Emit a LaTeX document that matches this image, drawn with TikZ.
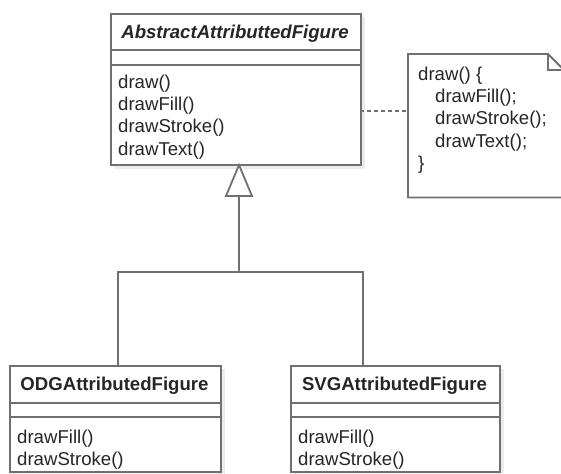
\documentclass[tikz,border=0pt]{standalone}
\usepackage{fontspec}
\setmainfont{Liberation Sans}
\usetikzlibrary{calc}
\definecolor{linegray}{RGB}{112,112,112}
\definecolor{textcol}{RGB}{38,38,38}
\definecolor{shadowcol}{RGB}{236,236,236}
\begin{document}
\begin{tikzpicture}[x=1pt,y=-1pt,
  umlline/.style={draw=linegray, line width=1.8pt},
  classbox/.style={umlline, fill=white, rectangle, inner sep=0pt, anchor=north west},
  boxshadow/.style={fill=shadowcol, draw=none},
  sepline/.style={umlline, line width=1.6pt},
  txt/.style={text=textcol, inner sep=0pt, anchor=base west, font=\fontsize{18.6}{22}\selectfont},
  ttl/.style={text=textcol, inner sep=0pt, anchor=base, font=\fontsize{18.6}{22}\selectfont\bfseries},
  conn/.style={umlline},
  dashconn/.style={draw=linegray, line width=1.5pt, dash pattern=on 4pt off 3pt}
]
\useasboundingbox (0,0) rectangle (561,473);

% shadows
\fill[boxshadow] (114,17) rectangle (365,169);
\fill[boxshadow] (13,369) rectangle (225,476);
\fill[boxshadow] (294,369) rectangle (504,476);

% Abstract class
\node[classbox, minimum width=250pt, minimum height=151pt] (abs) at (110,13) {};
\draw[sepline] (110,50) -- (360,50);
\draw[sepline] (110,65) -- (360,65);
\node[ttl, font=\fontsize{18.6}{22}\selectfont\bfseries\itshape] (absT) at (235,39) {AbstractAttributtedFigure};
\node[txt] (m1) at (118,89) {draw()};
\node[txt] (m2) at (118,111) {drawFill()};
\node[txt] (m3) at (118,133) {drawStroke()};
\node[txt] (m4) at (118,155) {drawText()};

% ODG class
\node[classbox, minimum width=211pt, minimum height=106pt] (odg) at (9,365) {};
\draw[sepline] (9,403) -- (220,403);
\draw[sepline] (9,417) -- (220,417);
\node[ttl] (odgT) at (114.5,390) {ODGAttributedFigure};
\node[txt] (o1) at (17,443) {drawFill()};
\node[txt] (o2) at (17,465) {drawStroke()};

% SVG class
\node[classbox, minimum width=209pt, minimum height=106pt] (svg) at (290,365) {};
\draw[sepline] (290,403) -- (499,403);
\draw[sepline] (290,417) -- (499,417);
\node[ttl] (svgT) at (394.5,390) {SVGAttributedFigure};
\node[txt] (s1) at (298,443) {drawFill()};
\node[txt] (s2) at (298,465) {drawStroke()};

% Note
\node[inner sep=0pt, minimum width=156pt, minimum height=143pt, anchor=north west] (note) at (408,54) {};
\draw[umlline, fill=white, line join=miter]
  (note.north west) -- (548,54) -- (564,70) -- (note.south east) -- (note.south west) -- cycle;
\draw[umlline, line width=1.4pt] (548,54) -- (548,70) -- (564,70);
\node[txt] (n1) at (418,81) {draw() \{};
\node[txt] (n2) at (435,103) {drawFill();};
\node[txt] (n3) at (435,125) {drawStroke();};
\node[txt] (n4) at (435,147) {drawText();};
\node[txt] (n5) at (418,169) {\}};

% dashed anchor line
\coordinate (dl) at (360,111);
\coordinate (dr) at (408,111);
\draw[dashconn] (dl) -- (dr);

% generalization
\coordinate (tip) at (239,165);
\coordinate (tb) at (239,196);
\coordinate (j) at (239,272);
\coordinate (oc) at (118,365);
\coordinate (sc) at (363,365);
\draw[conn, line join=miter] (oc) |- (j) -| (sc);
\draw[conn] (j) -- (tb);
\draw[umlline, fill=white, line join=miter] (tip) -- (252,196) -- (226,196) -- cycle;
\end{tikzpicture}
\end{document}
